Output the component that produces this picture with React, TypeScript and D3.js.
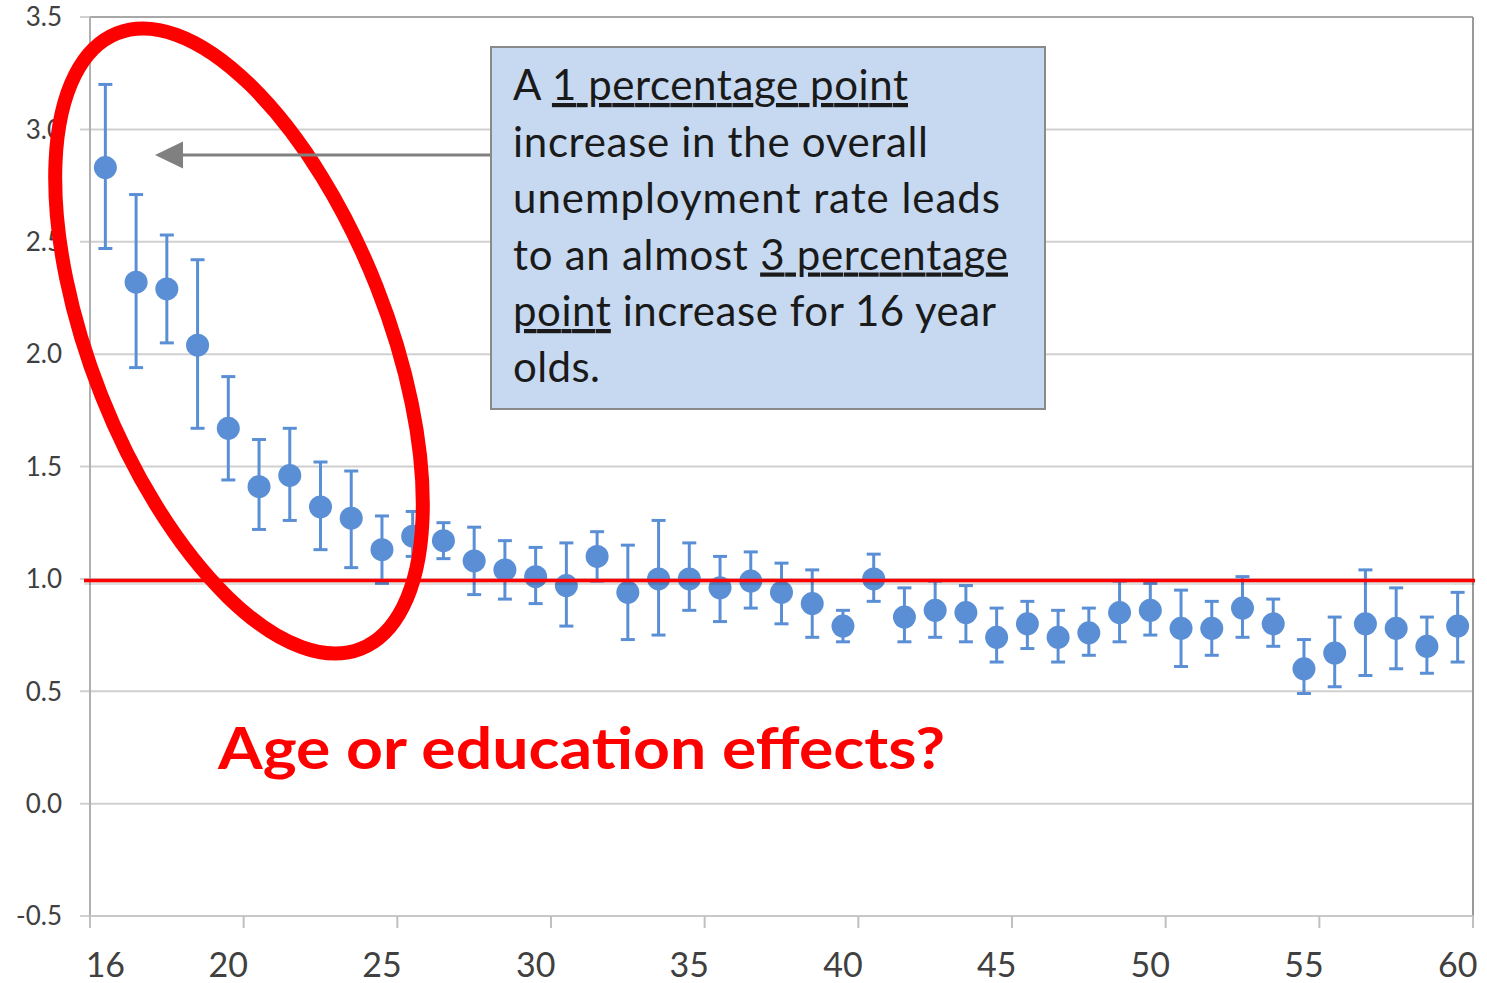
import React from "react";
import * as d3 from "d3";

const ages = [16,17,18,19,20,21,22,23,24,25,26,27,28,29,30,31,32,33,34,35,36,37,38,39,40,41,42,43,44,45,46,47,48,49,50,51,52,53,54,55,56,57,58,59,60];
const estimates = [2.83,2.32,2.29,2.04,1.67,1.41,1.46,1.32,1.27,1.13,1.19,1.17,1.08,1.04,1.01,0.97,1.10,0.94,1.00,1.00,0.96,0.99,0.94,0.89,0.79,1.00,0.83,0.86,0.85,0.74,0.80,0.74,0.76,0.85,0.86,0.78,0.78,0.87,0.80,0.60,0.67,0.80,0.78,0.70,0.79];
const upper = [3.20,2.71,2.53,2.42,1.90,1.62,1.67,1.52,1.48,1.28,1.30,1.25,1.23,1.17,1.14,1.16,1.21,1.15,1.26,1.16,1.10,1.12,1.07,1.04,0.86,1.11,0.96,0.99,0.97,0.87,0.90,0.86,0.87,0.99,0.98,0.95,0.90,1.01,0.91,0.73,0.83,1.04,0.96,0.83,0.94];
const lower = [2.47,1.94,2.05,1.67,1.44,1.22,1.26,1.13,1.05,0.98,1.10,1.09,0.93,0.91,0.89,0.79,0.99,0.73,0.75,0.86,0.81,0.87,0.80,0.74,0.72,0.90,0.72,0.74,0.72,0.63,0.69,0.63,0.66,0.72,0.75,0.61,0.66,0.74,0.70,0.49,0.52,0.57,0.60,0.58,0.63];
const yTicks = [-0.5,0,0.5,1.0,1.5,2.0,2.5,3.0,3.5];
const xLabelAges = [16,20,25,30,35,40,45,50,55,60];
const xTickIndices = [0,5,10,15,20,25,30,35,40,45];
const referenceLevel = 1.0;

const W = 1487, H = 983;
const left = 90, right = 1473, top = 17, bottom = 916;
const BLUE = "#5a8fd6";
const FONT = "Lato, 'Open Sans', sans-serif";
const UL = { textDecoration: "underline", textDecorationThickness: "2.5px" } as React.CSSProperties;

export default function App() {
  const x = d3.scaleBand<number>().domain(ages).range([left, right]).padding(0);
  const y = d3.scaleLinear().domain([-0.5, 3.5]).range([bottom, top]);
  const cx = (a: number) => (x(a) as number) + x.bandwidth() / 2;
  const bw = x.bandwidth();
  const capHalf = 7;

  return (
    <svg width={W} height={H} style={{ position: "absolute", left: 0, top: 0, background: "#fff" }}>
      <rect x={0} y={0} width={W} height={H} fill="#fff" />
      {yTicks.map((t) => (
        <line key={"g" + t} x1={left - 10} x2={right} y1={y(t)} y2={y(t)} stroke="#d0d0d0" strokeWidth={2} />
      ))}
      <line x1={left} x2={right} y1={top} y2={top} stroke="#a8a8a8" strokeWidth={2} />
      <line x1={right} x2={right} y1={top} y2={bottom} stroke="#9a9a9a" strokeWidth={2} />
      <line x1={left} x2={left} y1={top} y2={bottom + 12} stroke="#b0b0b0" strokeWidth={2} />
      <line x1={left} x2={right} y1={bottom} y2={bottom} stroke="#c8c8c8" strokeWidth={2} />
      {xTickIndices.map((i) => {
        const xx = left + i * bw;
        return <line key={"xt" + i} x1={xx} x2={xx} y1={bottom} y2={bottom + 12} stroke="#c0c0c0" strokeWidth={2} />;
      })}
      {yTicks.map((t) => (
        <text key={"yl" + t} x={62} y={y(t)} dy="0.36em" textAnchor="end" fontFamily={FONT} fontSize={26} fill="#404040">
          {t.toFixed(1)}
        </text>
      ))}
      {xLabelAges.map((a) => (
        <text key={"xl" + a} x={cx(a)} y={977} textAnchor="middle" fontFamily={FONT} fontSize={34} fill="#404040">
          {a}
        </text>
      ))}
      {ages.map((a, i) => (
        <g key={"e" + a} stroke={BLUE} strokeWidth={3}>
          <line x1={cx(a)} x2={cx(a)} y1={y(upper[i])} y2={y(lower[i])} />
          <line x1={cx(a) - capHalf} x2={cx(a) + capHalf} y1={y(upper[i])} y2={y(upper[i])} />
          <line x1={cx(a) - capHalf} x2={cx(a) + capHalf} y1={y(lower[i])} y2={y(lower[i])} />
        </g>
      ))}
      {ages.map((a, i) => (
        <circle key={"p" + a} cx={cx(a)} cy={y(estimates[i])} r={11.5} fill={BLUE} />
      ))}
      <line x1={left - 6} x2={right + 2} y1={y(referenceLevel) + 4} y2={y(referenceLevel) + 4} stroke="#000" strokeOpacity={0.12} strokeWidth={4} />
      <line x1={left - 6} x2={right + 2} y1={y(referenceLevel) + 1.5} y2={y(referenceLevel) + 1.5} stroke="#ff0000" strokeWidth={3.5} />
      <ellipse cx={239} cy={341} rx={148} ry={331} transform="rotate(-21.6 239 341)" fill="none" stroke="#ff0000" strokeWidth={14} />
      <line x1={491} x2={180} y1={155} y2={155} stroke="#808080" strokeWidth={3} />
      <path d="M155,155 L183,141.5 L183,168.5 Z" fill="#808080" />
      <rect x={491} y={47} width={554} height={362} fill="#c6d9f1" stroke="#8a8a8a" strokeWidth={2} />
      <g fontFamily={FONT} fontSize={42} fill="#1a1a1a">
        <text x={513} y={100} textLength={395} lengthAdjust="spacing">
          A <tspan style={UL}>1 percentage point</tspan>
        </text>
        <text x={513} y={156.5} textLength={415} lengthAdjust="spacing">increase in the overall</text>
        <text x={513} y={213} textLength={487} lengthAdjust="spacing">unemployment rate leads</text>
        <text x={513} y={269.5} textLength={495} lengthAdjust="spacing">
          to an almost <tspan style={UL}>3 percentage</tspan>
        </text>
        <text x={513} y={326} textLength={483} lengthAdjust="spacing">
          <tspan style={UL}>point</tspan> increase for 16 year
        </text>
        <text x={513} y={382} textLength={87} lengthAdjust="spacing">olds.</text>
      </g>
      <text x={218} y={769} fontFamily={FONT} fontWeight="bold" fontSize={58} fill="#ff0000" textLength={727} lengthAdjust="spacingAndGlyphs">
        Age or education effects?
      </text>
    </svg>
  );
}
